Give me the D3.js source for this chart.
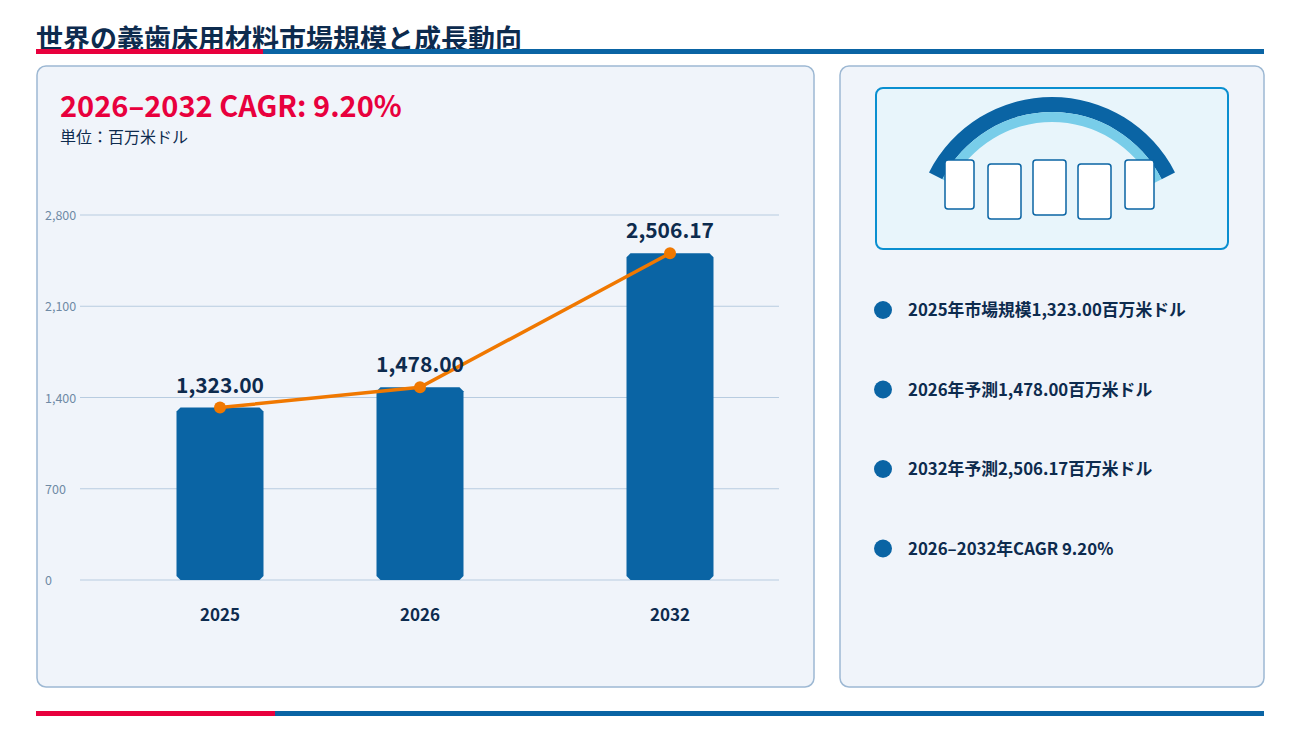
<!DOCTYPE html><html><head><meta charset="utf-8">
<script src="https://cdn.jsdelivr.net/npm/d3@7"></script>
<style>body{margin:0;background:#fff}svg{display:block}text{font-family:"Noto Sans CJK JP","Noto Sans",sans-serif}</style></head><body>
<svg id="c" width="1300" height="732"></svg>
<script>
const categories=["2025","2026","2032"];
const values=[1323.00,1478.00,2506.17];
const valueLabels=["1,323.00","1,478.00","2,506.17"];
const yTicks=[0,700,1400,2100,2800];
const legendItems=["2025年市場規模1,323.00百万米ドル","2026年予測1,478.00百万米ドル","2032年予測2,506.17百万米ドル","2026–2032年CAGR 9.20%"];
const title="世界の義歯床用材料市場規模と成長動向";
const cagr="2026–2032 CAGR: 9.20%";
const unit="単位：百万米ドル";

const svg=d3.select("#c");
const navy="#0d2b4e",blue="#0a64a4",red="#e8003d",orange="#f07800";
svg.append("text").attr("x",36).attr("y",49).attr("font-size",27).attr("font-weight",700).attr("fill",navy).text(title);
svg.append("rect").attr("x",36).attr("y",49).attr("width",1228).attr("height",5).attr("fill",blue);
svg.append("rect").attr("x",36).attr("y",49).attr("width",227).attr("height",5).attr("fill",red);
svg.append("rect").attr("x",36).attr("y",711).attr("width",1228).attr("height",5).attr("fill",blue);
svg.append("rect").attr("x",36).attr("y",711).attr("width",239).attr("height",5).attr("fill",red);
[[37,66,777,621],[840,66,424,621]].forEach(p=>svg.append("rect").attr("x",p[0]).attr("y",p[1]).attr("width",p[2]).attr("height",p[3]).attr("rx",9).attr("fill","#f0f4fa").attr("stroke","#9db8d3").attr("stroke-width",1.5));
svg.append("text").attr("x",60).attr("y",117).attr("font-size",29).attr("font-weight",700).attr("fill",red).text(cagr);
svg.append("text").attr("x",60).attr("y",143).attr("font-size",16).attr("fill",navy).text(unit);

const y=d3.scaleLinear().domain([0,2800]).range([580,215]);
const x=d3.scaleOrdinal().domain(categories).range([220,420,670]);
const bw=87;
const g=svg.append("g");
yTicks.forEach(t=>{
  g.append("line").attr("x1",80).attr("x2",779).attr("y1",y(t)).attr("y2",y(t)).attr("stroke","#b8cce0").attr("stroke-width",1);
  g.append("text").attr("x",45).attr("y",y(t)+5).attr("font-size",12.5).attr("fill","#6f8aa5").text(d3.format(",")(t));
});
const ch=4;
values.forEach((v,i)=>{
  const x0=x(categories[i])-bw/2,x1=x0+bw,y0=y(v),y1=y(0);
  g.append("path").attr("fill",blue).attr("d",`M${x0+ch},${y0}L${x1-ch},${y0}L${x1},${y0+ch}L${x1},${y1-ch}L${x1-ch},${y1}L${x0+ch},${y1}L${x0},${y1-ch}L${x0},${y0+ch}Z`);
  g.append("text").attr("x",x(categories[i])).attr("y",621).attr("text-anchor","middle").attr("font-size",17).attr("font-weight",700).attr("fill",navy).text(categories[i]);
});
const line=d3.line().x((d,i)=>x(categories[i])).y(d=>y(d));
g.append("path").attr("d",line(values)).attr("fill","none").attr("stroke",orange).attr("stroke-width",3.5);
values.forEach((v,i)=>{
  g.append("circle").attr("cx",x(categories[i])).attr("cy",y(v)).attr("r",6).attr("fill",orange);
  g.append("text").attr("x",x(categories[i])).attr("y",y(v)-15).attr("text-anchor","middle").attr("font-size",21).attr("font-weight",700).attr("fill",navy).text(valueLabels[i]);
});

svg.append("rect").attr("x",876).attr("y",88).attr("width",352).attr("height",161).attr("rx",7).attr("fill","#e8f5fb").attr("stroke","#0a8fd0").attr("stroke-width",2);
const cx=1052,cy=235;
const arcD=d3.arc().startAngle(-1.1).endAngle(1.1);
svg.append("path").attr("transform",`translate(${cx},${cy})`).attr("d",arcD({innerRadius:123,outerRadius:138})).attr("fill",blue);
svg.append("path").attr("transform",`translate(${cx},${cy})`).attr("d",arcD({innerRadius:113,outerRadius:123})).attr("fill","#78cde9");
[[945,160,29,49],[988,164,33,55],[1033,160,33,55],[1078,164,33,55],[1125,160,29,49]].forEach(r=>
  svg.append("rect").attr("x",r[0]).attr("y",r[1]).attr("width",r[2]).attr("height",r[3]).attr("rx",3).attr("fill","#fff").attr("stroke",blue).attr("stroke-width",1.5));

legendItems.forEach((t,i)=>{
  const yy=310+i*79.5;
  svg.append("circle").attr("cx",883).attr("cy",yy).attr("r",9).attr("fill",blue);
  svg.append("text").attr("x",908).attr("y",yy+6).attr("font-size",16.8).attr("font-weight",700).attr("fill",navy).text(t);
});
</script></body></html>
